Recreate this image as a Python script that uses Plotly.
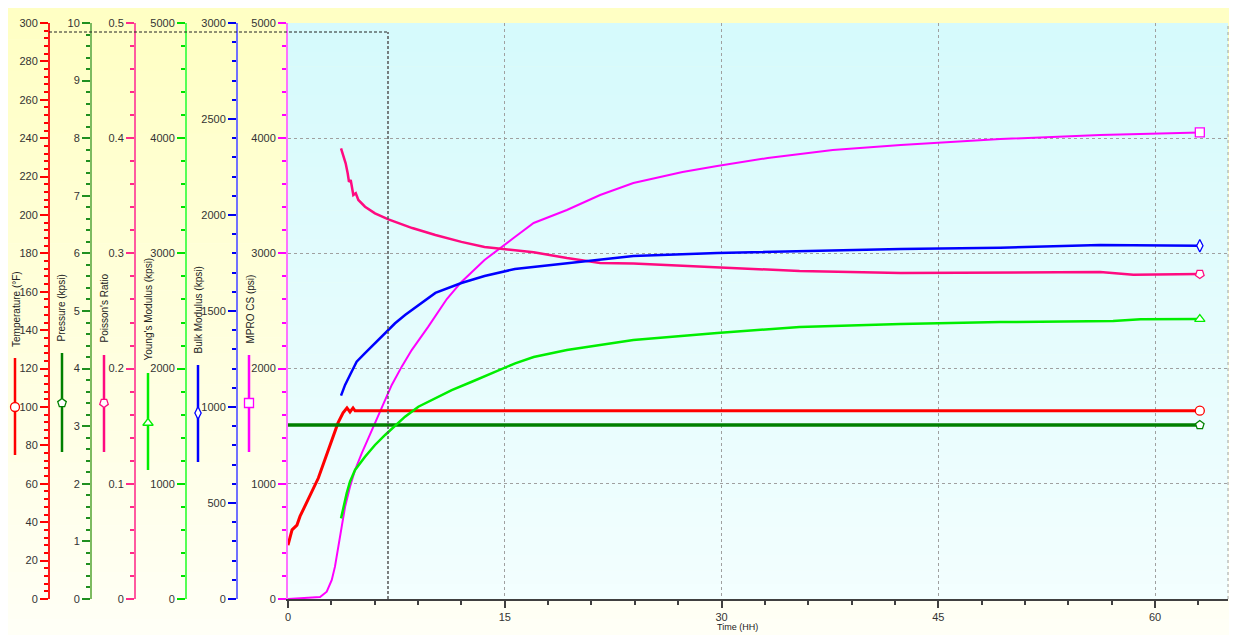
import plotly.graph_objects as go

# The page body has an 8px margin; the figure is sized and offset so that
# reference pixel coordinates map onto the window directly.
OFF = 8
W, H = 1237 - OFF, 635 - OFF

# ---------------- data ----------------
temp_t = [0, 0.14, 0.28, 0.62, 0.83, 2.1, 3.46, 3.81, 4.08, 4.29, 4.5, 4.64, 10, 20, 30, 40, 50, 63.1]
temp_v = [28, 32, 36, 38.5, 43, 63, 91.7, 97, 99.5, 97.4, 99.5, 98, 98.1, 98.1, 98.1, 98.1, 98.1, 98.1]

pres_t = [0, 10, 20, 30, 40, 50, 63.1]
pres_v = [3.02, 3.02, 3.02, 3.02, 3.02, 3.02, 3.02]

pois_t = [3.67, 3.83, 3.99, 4.13, 4.22, 4.34, 4.41, 4.52, 4.69, 4.87, 5.33, 6.02, 6.95, 8.6, 10.2,
          12.0, 13.6, 15.7, 17.0, 19.3, 21.6, 23.9, 29.7, 35.4, 42.4, 49.3, 56.2, 58.5, 63.1]
pois_v = [0.3912, 0.3854, 0.3782, 0.3695, 0.3622, 0.3637, 0.3594, 0.3507, 0.3522, 0.3464, 0.3405,
          0.3348, 0.3296, 0.322, 0.316, 0.310, 0.3056, 0.303, 0.301, 0.296, 0.2917, 0.2912, 0.288,
          0.2847, 0.283, 0.2835, 0.2838, 0.2815, 0.2821]

ym_t = [3.67, 3.83, 4.06, 4.29, 4.64, 5.33, 6.02, 6.72, 7.41, 8.1, 9.02, 10.18, 11.33, 12.72, 14.1,
        15.72, 17.0, 19.3, 23.9, 29.7, 35.4, 42.4, 49.3, 57.1, 59.0, 63.1]
ym_v = [700, 801, 917, 1018, 1120, 1235, 1337, 1424, 1502, 1583, 1669, 1742, 1814, 1886, 1959,
        2046, 2101, 2161, 2248, 2309, 2361, 2387, 2404, 2413, 2428, 2430]

bulk_t = [3.67, 3.95, 4.29, 4.52, 4.75, 5.33, 6.02, 6.72, 7.41, 8.1, 9.02, 10.2, 12.0, 13.6, 15.7,
          19.3, 23.9, 29.7, 35.4, 42.4, 49.3, 56.2, 63.1]
bulk_v = [1059, 1115, 1167, 1201, 1236, 1280, 1332, 1384, 1436, 1479, 1531, 1594, 1646, 1682, 1719,
          1750, 1786, 1802, 1812, 1823, 1830, 1844, 1840]

cs_t = [0, 2.22, 2.68, 3.03, 3.25, 3.48, 3.67, 3.95, 4.29, 4.64, 5.10, 5.79, 6.49, 7.18, 7.87, 8.56,
        9.71, 10.99, 12.0, 13.6, 15.7, 17.0, 19.3, 21.6, 23.9, 27.3, 29.7, 33.2, 37.7, 42.4, 49.3,
        56.2, 63.1]
cs_v = [0, 17, 63, 165, 281, 455, 599, 801, 975, 1120, 1265, 1467, 1670, 1858, 2017, 2161, 2364,
        2604, 2752, 2943, 3142, 3264, 3377, 3507, 3611, 3707, 3759, 3828, 3898, 3941, 3993, 4028, 4050]

cursor_time = 6.92

# ---------------- styling ----------------
NARROW = "Liberation Sans Narrow, Arial Narrow, Liberation Sans, Arial"
SANS = "Liberation Sans, Arial"
TICK_FONT = dict(family=NARROW, size=11, color="#333333")


def px_x(p):
    return min(1.0, max(0.0, (p - OFF) / W))


def px_y(p):
    return min(1.0, max(0.0, (H - (p - OFF)) / H))


X0, X1 = 288, 1228
Y0, Y1 = 599, 23
dom_y = [px_y(Y0), px_y(Y1)]

series = [
    dict(name="Temperature (°F)", t=temp_t, v=temp_v, ax="y2", color="#ff0000", w=3, sym="circle", ang=0,
         pos=49, rng=[0, 300], dt=20, mdt=4, lc="#ff2020", tc="#ff0000",
         lab=(16, 349), glyph=(15, 358, 455, 407)),
    dict(name="Pressure (kpsi)", t=pres_t, v=pres_v, ax="y3", color="#008000", w=3.5, sym="pentagon", ang=0,
         pos=91, rng=[0, 10], dt=1, mdt=0.2, lc="#7dbb60", tc="#1f8f1f",
         lab=(61, 344), glyph=(62, 353, 452, 403)),
    dict(name="Poisson's Ratio", t=pois_t, v=pois_v, ax="y4", color="#ff0a80", w=2.5, sym="pentagon", ang=180,
         pos=135, rng=[0, 0.5], dt=0.1, mdt=0.02, lc="#ff5aa0", tc="#ff2a8a",
         lab=(104, 345), glyph=(104, 355, 452, 403)),
    dict(name="Young's Modulus (kpsi)", t=ym_t, v=ym_v, ax="y5", color="#00ee00", w=2.5, sym="triangle-up", ang=0,
         pos=186, rng=[0, 5000], dt=1000, mdt=200, lc="#55ff55", tc="#00e000",
         lab=(148, 363), glyph=(148, 373, 470, 423)),
    dict(name="Bulk Modulus (kpsi)", t=bulk_t, v=bulk_v, ax="y6", color="#0000ff", w=2.5, sym="diamond-tall", ang=0,
         pos=237, rng=[0, 3000], dt=500, mdt=100, lc="#7070ff", tc="#0000ee",
         lab=(198, 356), glyph=(198, 365, 462, 413)),
    dict(name="MPRO CS (psi)", t=cs_t, v=cs_v, ax="y", color="#ff00ff", w=2, sym="square", ang=0,
         pos=288, rng=[0, 5000], dt=1000, mdt=200, lc="#ff70ff", tc="#ff00ff",
         lab=(250, 346), glyph=(249, 355, 452, 403)),
]

fig = go.Figure()

order = [5, 3, 4, 2, 0, 1]
for i in order:
    s = series[i]
    fig.add_trace(go.Scatter(x=s["t"], y=s["v"], mode="lines", yaxis=s["ax"], xaxis="x",
                             line=dict(color=s["color"], width=s["w"]), name=s["name"],
                             hoverinfo="skip", showlegend=False))
for s in series:
    fig.add_trace(go.Scatter(x=[s["t"][-1]], y=[s["v"][-1]], mode="markers", yaxis=s["ax"], xaxis="x",
                             marker=dict(symbol=s["sym"], angle=s["ang"], size=9, color="white",
                                         line=dict(color=s["color"], width=1.3)),
                             hoverinfo="skip", showlegend=False))

# axis legend glyphs on a pixel-space overlay
for s in series:
    gx, gy0, gy1, gm = s["glyph"]
    fig.add_trace(go.Scatter(x=[gx, gx], y=[gy0, gy1], mode="lines", xaxis="x2", yaxis="y7",
                             line=dict(color=s["color"], width=2.5), hoverinfo="skip", showlegend=False))
    fig.add_trace(go.Scatter(x=[gx], y=[gm], mode="markers", xaxis="x2", yaxis="y7",
                             marker=dict(symbol=s["sym"], angle=s["ang"], size=9, color="white",
                                         line=dict(color=s["color"], width=1.3)),
                             hoverinfo="skip", showlegend=False))

# ---------------- backgrounds (gradients as stripes) ----------------
shapes = []
N = 40
top_y, bot_y = OFF, OFF + H
for k in range(N):
    f = k / (N - 1)
    b = int(196 + (246 - 196) * f)
    ya = top_y + (bot_y - top_y) * k / N
    yb = top_y + (bot_y - top_y) * (k + 1) / N
    shapes.append(dict(type="rect", xref="paper", yref="paper", x0=0, x1=1,
                       y0=px_y(yb + 0.5), y1=px_y(ya), fillcolor=f"rgb(255,255,{b})",
                       line=dict(width=0), layer="below"))
for k in range(N):
    f = k / (N - 1)
    r = int(214 + (243 - 214) * f)
    g = int(250 + (255 - 250) * f)
    bb = int(252 + (255 - 252) * f)
    ya = Y1 + (Y0 - Y1) * k / N
    yb = Y1 + (Y0 - Y1) * (k + 1) / N
    shapes.append(dict(type="rect", xref="paper", yref="paper", x0=px_x(X0), x1=px_x(X1),
                       y0=px_y(yb + 0.5), y1=px_y(ya), fillcolor=f"rgb({r},{g},{bb})",
                       line=dict(width=0), layer="below"))

shapes.append(dict(type="line", xref="paper", yref="paper", x0=px_x(X1), x1=px_x(X1),
                   y0=dom_y[0], y1=dom_y[1], line=dict(color="#a0a0a0", width=1, dash="3px,3px")))
cursor_y = px_y(32)
shapes.append(dict(type="line", xref="paper", yref="paper", x0=px_x(49), x1=px_x(388),
                   y0=cursor_y, y1=cursor_y, line=dict(color="#222222", width=1, dash="3px,2px")))
shapes.append(dict(type="line", xref="x", yref="paper", x0=cursor_time, x1=cursor_time,
                   y0=dom_y[0], y1=cursor_y, line=dict(color="#555555", width=1.5, dash="3px,2px")))

# ---------------- axes ----------------
layout = dict(
    width=W, height=H, template="none",
    margin=dict(l=0, r=0, t=0, b=0, pad=0),
    paper_bgcolor="rgba(0,0,0,0)", plot_bgcolor="rgba(0,0,0,0)",
    font=dict(family=SANS, size=10, color="#222222"),
    showlegend=False, shapes=shapes,
    xaxis=dict(domain=[px_x(X0), px_x(X1)], range=[0, 65.05], anchor="y",
               dtick=15, tick0=0, ticks="outside", ticklen=7, tickwidth=1.5, tickcolor="#404040",
               minor=dict(dtick=3, ticks="outside", ticklen=4, tickwidth=1.5, tickcolor="#404040", showgrid=False),
               showline=True, linecolor="#404040", linewidth=2,
               showgrid=True, gridcolor="#a0a0a0", gridwidth=1, griddash="3px,3px",
               zeroline=False, tickfont=TICK_FONT, automargin=False, fixedrange=True),
    xaxis2=dict(domain=[0, 1], range=[OFF, OFF + W], anchor="y7", visible=False, fixedrange=True),
    yaxis7=dict(domain=[0, 1], range=[OFF + H, OFF], anchor="x2", visible=False, fixedrange=True),
)

for s in series:
    key = "yaxis" if s["ax"] == "y" else "yaxis" + s["ax"][1:]
    ax = dict(domain=dom_y, range=s["rng"], dtick=s["dt"], tick0=0,
              ticks="outside", ticklen=8, tickwidth=1.5, tickcolor=s["tc"],
              minor=dict(dtick=s["mdt"], ticks="outside", ticklen=4, tickwidth=1.5, tickcolor=s["tc"], showgrid=False),
              showline=True, linecolor=s["lc"], linewidth=2, zeroline=False,
              tickfont=TICK_FONT, automargin=False, fixedrange=True, side="left")
    if s["ax"] == "y":
        ax.update(anchor="x", showgrid=True, gridcolor="#a0a0a0", gridwidth=1, griddash="3px,3px")
    else:
        ax.update(anchor="free", overlaying="y", position=px_x(s["pos"]), showgrid=False)
    layout[key] = ax

annotations = []
for s in series:
    lx, lb = s["lab"]
    annotations.append(dict(text=s["name"], xref="paper", yref="paper", x=px_x(lx), y=px_y(lb),
                            xanchor="center", yanchor="bottom", textangle=-90, showarrow=False,
                            font=dict(family=SANS, size=10, color="#222222")))
annotations.append(dict(text="Time (HH)", xref="paper", yref="paper", x=px_x(737), y=px_y(627),
                        xanchor="center", yanchor="middle", showarrow=False,
                        font=dict(family=SANS, size=9, color="#222222")))
layout["annotations"] = annotations

fig.update_layout(**layout)
fig.write_html("out.html")
